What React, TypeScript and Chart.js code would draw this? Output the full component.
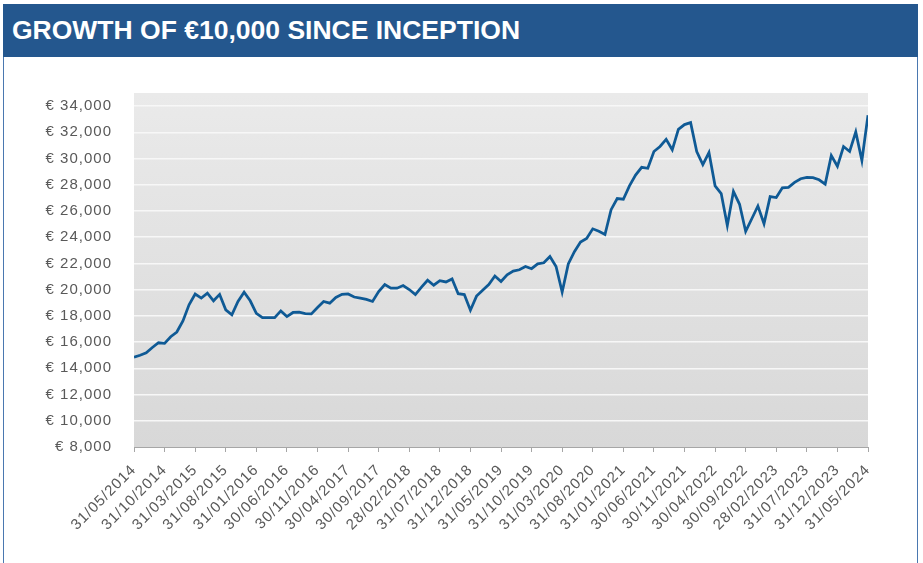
import React, { useEffect, useRef } from "react";
import { Chart, registerables } from "chart.js";

Chart.register(...registerables);

const TITLE = "GROWTH OF €10,000 SINCE INCEPTION";

// Month index 0 = 31/05/2014 ... 120 = 31/05/2024 (monthly)
const tickLabels = [
  "31/05/2014", "31/10/2014", "31/03/2015", "31/08/2015", "31/01/2016",
  "30/06/2016", "30/11/2016", "30/04/2017", "30/09/2017", "28/02/2018",
  "31/07/2018", "31/12/2018", "31/05/2019", "31/10/2019", "31/03/2020",
  "31/08/2020", "31/01/2021", "30/06/2021", "30/11/2021", "30/04/2022",
  "30/09/2022", "28/02/2023", "31/07/2023", "31/12/2023", "31/05/2024",
];

const values2014to2017 = [
  14850, 15000, 15180, 15590, 15950, 15900, 16410, 16770, 17620, 18850,
  19670, 19360, 19740, 19150, 19640, 18460, 18080, 19100, 19800, 19150,
  18200, 17870, 17870, 17870, 18380, 17950, 18260, 18280, 18180, 18150,
  18640, 19100, 18970, 19410, 19640, 19670, 19440, 19360, 19260, 19100,
  19850,
];

const values2017to2020 = [
  20390, 20110, 20110, 20310, 20010, 19630, 20190, 20720, 20340, 20690,
  20590, 20820, 19690, 19630, 18430, 19510, 19960, 20390, 21040, 20620,
  21140, 21420, 21520, 21770, 21600, 21970, 22050, 22530, 21770, 19810,
  21970, 22900, 23630, 23910, 24640, 24460, 24210, 26100,
];

const values2020to2024 = [
  26950, 26900, 27920, 28740, 29330, 29260, 30540, 30920, 31460, 30670,
  32230, 32590, 32740, 30540, 29540, 30460, 27920, 27330, 24900, 27490,
  26510, 24440, 25410, 26380, 25030, 27100, 27030, 27770, 27800, 28180,
  28460, 28560, 28540, 28380, 28050, 30230, 29410, 30920, 30540, 32030,
  29850, 33310,
];

const seriesValues = [...values2014to2017, ...values2017to2020, ...values2020to2024];

const yTickValues = [8000, 10000, 12000, 14000, 16000, 18000, 20000, 22000, 24000, 26000, 28000, 30000, 32000, 34000];

const FONT = "'Liberation Sans', Arial, Helvetica, sans-serif";

const spacingPlugin = {
  id: "spacing",
  beforeLayout(chart: any) {
    (chart.ctx as any).letterSpacing = "1px";
  },
  beforeDraw(chart: any) {
    (chart.ctx as any).letterSpacing = "1px";
    const { ctx, chartArea } = chart;
    if (!chartArea) return;
    const g = ctx.createLinearGradient(0, chartArea.top, 0, chartArea.bottom);
    g.addColorStop(0, "#eaeaea");
    g.addColorStop(1, "#d8d8d8");
    ctx.save();
    ctx.fillStyle = g;
    ctx.fillRect(chartArea.left, chartArea.top, chartArea.right - chartArea.left, chartArea.bottom - chartArea.top);
    ctx.restore();
  },
};

export default function App() {
  const canvasRef = useRef<HTMLCanvasElement | null>(null);

  useEffect(() => {
    const canvas = canvasRef.current;
    if (!canvas) return;
    const data = seriesValues.map((v, i) => ({ x: i, y: v }));
    const chart = new Chart(canvas, {
      type: "line",
      data: {
        datasets: [
          {
            data,
            borderColor: "#0f5a95",
            borderWidth: 2.75,
            pointRadius: 0,
            tension: 0,
            fill: false,
          },
        ],
      },
      options: {
        animation: false,
        responsive: false,
        maintainAspectRatio: false,
        layout: { padding: { left: 0, top: 93, right: 55, bottom: 0 } },
        plugins: {
          legend: { display: false },
          tooltip: { enabled: false },
          title: { display: false },
        },
        scales: {
          x: {
            type: "linear",
            min: 0,
            max: seriesValues.length - 1,
            afterFit: (s: any) => {
              s.height = 116;
            },
            afterBuildTicks: (s: any) => {
              s.ticks = tickLabels.map((_, k) => ({ value: k * 5 }));
            },
            ticks: {
              autoSkip: false,
              minRotation: 45,
              maxRotation: 45,
              padding: 9,
              color: "#595959",
              font: { family: FONT, size: 15 },
              callback: (v: any) => tickLabels[Math.round(Number(v) / 5)] ?? "",
            },
            grid: {
              display: true,
              drawOnChartArea: false,
              drawTicks: true,
              tickLength: 5,
              color: "#a6a6a6",
              lineWidth: 1,
            },
            border: { display: true, color: "#a6a6a6", width: 1 },
          },
          y: {
            type: "linear",
            min: 8000,
            max: 35000,
            afterFit: (s: any) => {
              s.width = 134;
            },
            afterBuildTicks: (s: any) => {
              s.ticks = yTickValues.map((v) => ({ value: v }));
            },
            ticks: {
              padding: 22,
              color: "#595959",
              font: { family: FONT, size: 15 },
              callback: (v: any) => "€ " + Number(v).toLocaleString("en-US"),
            },
            grid: {
              drawTicks: false,
              color: (c: any) => (c.tick && c.tick.value === 8000 ? "rgba(0,0,0,0)" : "#f7f7f7"),
              lineWidth: 1.5,
            },
            border: { display: false },
          },
        },
      },
      plugins: [spacingPlugin],
    } as any);
    return () => chart.destroy();
  }, []);

  return (
    <div style={{ position: "fixed", left: 0, top: 0, width: 923, height: 563, background: "#ffffff", overflow: "hidden" }}>
      <div
        style={{
          position: "absolute",
          left: 3,
          top: 57,
          width: 915,
          height: 520,
          borderLeft: "1.5px solid #4a78b0",
          borderRight: "1.5px solid #4a78b0",
          boxSizing: "border-box",
        }}
      />
      <div
        style={{
          position: "absolute",
          left: 3,
          top: 4,
          width: 915,
          height: 53,
          background: "#24578e",
          boxSizing: "border-box",
        }}
      >
        <div
          style={{
            position: "absolute",
            left: 9,
            top: 0,
            height: 53,
            lineHeight: "53px",
            color: "#ffffff",
            fontFamily: FONT,
            fontWeight: 700,
            fontSize: 26.5,
            whiteSpace: "nowrap",
          }}
        >
          {TITLE}
        </div>
      </div>
      <canvas ref={canvasRef} width={923} height={563} style={{ position: "absolute", left: 0, top: 0, width: 923, height: 563 }} />
    </div>
  );
}
